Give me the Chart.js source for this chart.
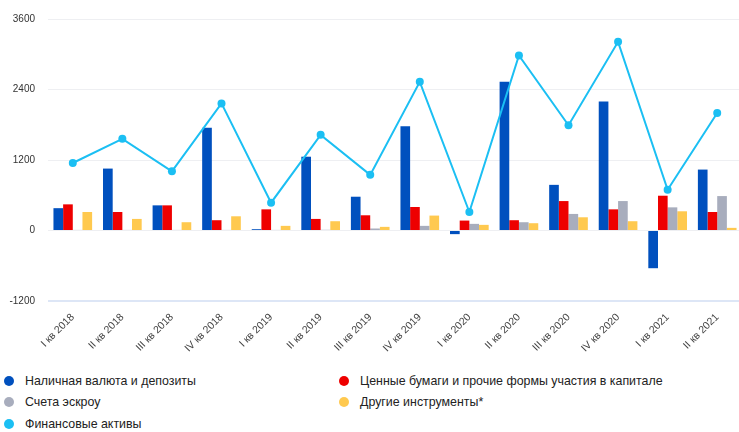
<!DOCTYPE html>
<html lang="ru">
<head>
    <meta charset="UTF-8">
    <title>Финансовые активы</title>
    <script src="https://cdn.jsdelivr.net/npm/chart.js"></script>
    <style>
        html, body { margin: 0; padding: 0; background: #fff; overflow: hidden; }
        .wrap { position: relative; width: 739px; height: 432px; overflow: hidden; }
        .chart-box { position: absolute; left: 0; top: 0; width: 746px; height: 362px; }
        .legend {
            position: absolute; left: 4px; top: 370px;
            display: grid; grid-template-columns: 335px auto;
            font-family: "Liberation Sans", Arial, sans-serif;
            font-size: 12.4px; color: #222;
        }
        .legend-item { display: flex; align-items: center; height: 21.5px; }
        .legend-dot { width: 10px; height: 10px; border-radius: 50%; margin-right: 11px; }
    </style>
</head>
<body>
<div class="wrap">
    <div class="chart-box">
        <canvas id="chart" width="746" height="362"></canvas>
    </div>
    <div class="legend" id="legend"></div>
</div>

<script>
    const labels = ['I кв 2018', 'II кв 2018', 'III кв 2018', 'IV кв 2018',
                    'I кв 2019', 'II кв 2019', 'III кв 2019', 'IV кв 2019',
                    'I кв 2020', 'II кв 2020', 'III кв 2020', 'IV кв 2020',
                    'I кв 2021', 'II кв 2021'];
    const cashDeposits     = [380, 1054, 428, 1747, 22, 1256, 575, 1775, -62, 2530, 777, 2197, -642, 1037];
    const securities       = [445, 315, 428, 175, 360, 197, 259, 400, 169, 175, 501, 360, 592, 315];
    const escrow           = [10, 10, 10, 10, 10, 12, 34, 79, 113, 141, 282, 501, 394, 586];
    const otherInstruments = [315, 197, 141, 242, 79, 158, 62, 254, 96, 124, 225, 158, 327, 45];
    const financialAssets  = [1149, 1561, 1008, 2163, 473, 1628, 947, 2530, 315, 2980, 1792, 3211, 693, 2000];

    const seriesNames = ['Наличная валюта и депозиты', 'Ценные бумаги и прочие формы участия в капитале',
                         'Счета эскроу', 'Другие инструменты*', 'Финансовые активы'];
    const seriesColors = ['#0050be', '#ee0000', '#a8adbd', '#ffc94f', '#1bbff3'];
    const yTicks = [-1200, 0, 1200, 2400, 3600];

    const barSet = (i, data) => ({
        type: 'bar',
        label: seriesNames[i],
        data: data,
        backgroundColor: seriesColors[i],
        borderWidth: 0,
        categoryPercentage: 0.78,
        barPercentage: 1,
        order: 1
    });

    new Chart(document.getElementById('chart'), {
        data: {
            labels: labels,
            datasets: [
                barSet(0, cashDeposits),
                barSet(1, securities),
                barSet(2, escrow),
                barSet(3, otherInstruments),
                {
                    type: 'line',
                    label: seriesNames[4],
                    data: financialAssets,
                    borderColor: seriesColors[4],
                    backgroundColor: seriesColors[4],
                    pointBackgroundColor: seriesColors[4],
                    pointBorderWidth: 0,
                    pointRadius: 4,
                    borderWidth: 2,
                    tension: 0,
                    order: 0
                }
            ]
        },
        options: {
            responsive: false,
            animation: false,
            layout: { padding: { top: 17, right: 0, left: 0, bottom: 0 } },
            plugins: { legend: { display: false }, tooltip: { enabled: false } },
            scales: {
                x: {
                    offset: true,
                    grid: { display: false },
                    border: { display: false },
                    ticks: {
                        minRotation: 45, maxRotation: 45, padding: 2,
                        color: '#444',
                        font: { family: '"Liberation Sans", Arial, sans-serif', size: 10.5 }
                    },
                    afterFit: scale => { scale.height = 61; }
                },
                y: {
                    min: yTicks[0],
                    max: yTicks[yTicks.length - 1],
                    afterBuildTicks: scale => { scale.ticks = yTicks.map(v => ({ value: v })); },
                    border: { display: false },
                    grid: {
                        drawTicks: false,
                        color: c => c.tick && c.tick.value === yTicks[0] ? '#dde6f6' : '#eeeff2',
                        lineWidth: c => c.tick && c.tick.value === yTicks[0] ? 2 : 1
                    },
                    ticks: {
                        padding: 13,
                        color: '#333',
                        font: { family: '"Liberation Sans", Arial, sans-serif', size: 10 },
                        callback: v => String(v)
                    },
                    afterFit: scale => { scale.width = 48; }
                }
            }
        }
    });

    const legendBox = document.getElementById('legend');
    seriesNames.forEach((name, i) => {
        legendBox.innerHTML += `
            <div class="legend-item">
                <span class="legend-dot" style="background:${seriesColors[i]}"></span>
                <span>${name}</span>
            </div>`;
    });
</script>
</body>
</html>
